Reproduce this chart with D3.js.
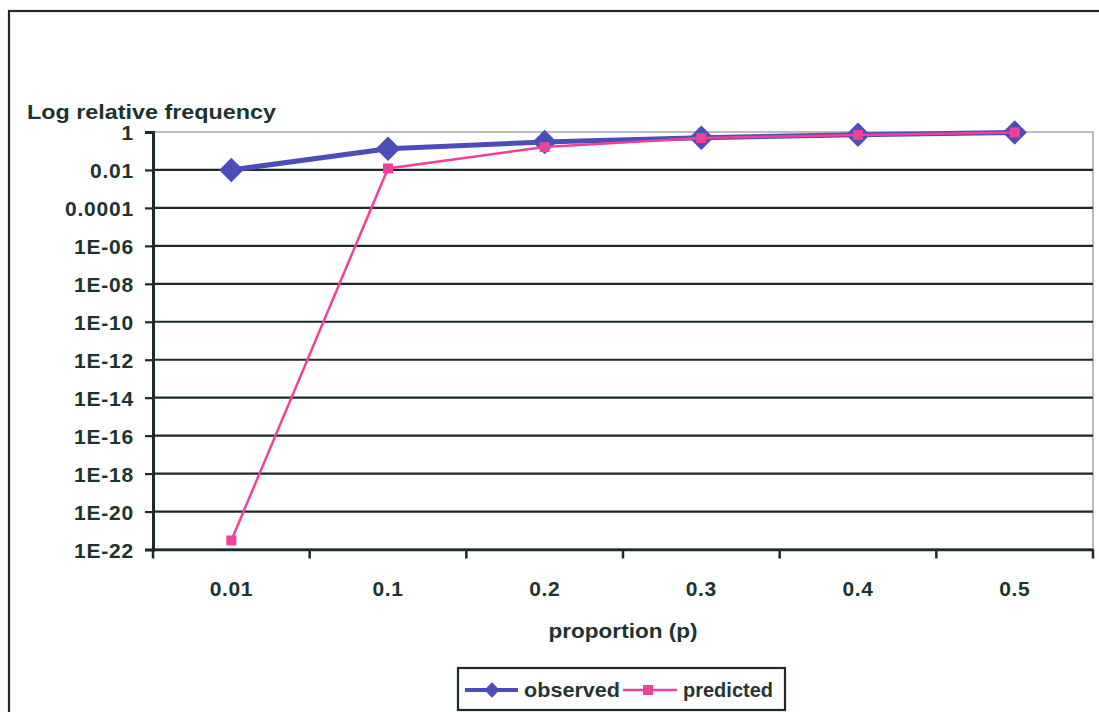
<!DOCTYPE html>
<html><head><meta charset="utf-8">
<script src="https://cdn.jsdelivr.net/npm/d3@7"></script>
<style>html,body{margin:0;padding:0;background:#fff;}svg{display:block;}</style>
</head><body>
<svg id="chart" width="1099" height="712"></svg>
<script>
const categories = ["0.01", "0.1", "0.2", "0.3", "0.4", "0.5"];
const observed = [0.01, 0.13, 0.3, 0.5, 0.72, 0.95];
const predicted = [3e-22, 0.012, 0.16, 0.48, 0.7, 0.95];
const yTickExponents = [0, -2, -4, -6, -8, -10, -12, -14, -16, -18, -20, -22];
const yTickLabels = ["1", "0.01", "0.0001", "1E-06", "1E-08", "1E-10", "1E-12", "1E-14", "1E-16", "1E-18", "1E-20", "1E-22"];
const seriesNames = ["observed", "predicted"];

const svg = d3.select("#chart");
const W = 1099, H = 712;
const plot = {left: 153, right: 1093, top: 132, bottom: 549.5};
const font = "'Liberation Sans', Arial, sans-serif";
const dark = "#1c2a2a";
const textCol = "#1d3330";
const blue = "#4b4db8";
const pink = "#f0409a";

// outer frame
svg.append("rect").attr("x", 9).attr("y", 11).attr("width", W + 20).attr("height", H + 20)
  .attr("fill", "none").attr("stroke", dark).attr("stroke-width", 2.2);

const x = d3.scaleBand().domain(categories).range([plot.left, plot.right]);
const y = d3.scaleLog().domain([1e-22, 1]).range([plot.bottom, plot.top]);

// plot area border (light)
svg.append("rect").attr("x", plot.left).attr("y", plot.top)
  .attr("width", plot.right - plot.left).attr("height", plot.bottom - plot.top)
  .attr("fill", "none").attr("stroke", "#a6a6b4").attr("stroke-width", 1.5);

// gridlines
const tickVals = yTickExponents.map(e => Math.pow(10, e));
svg.append("g").selectAll("line").data(tickVals.slice(1)).join("line")
  .attr("x1", plot.left).attr("x2", plot.right)
  .attr("y1", d => y(d)).attr("y2", d => y(d))
  .attr("stroke", dark).attr("stroke-width", 2.2);

// y axis
const yAxis = d3.axisLeft(y).tickValues(tickVals)
  .tickFormat((d, i) => yTickLabels[i]).tickSize(8).tickPadding(11);
const gy = svg.append("g").attr("transform", `translate(${plot.left},0)`).call(yAxis);
gy.select(".domain").attr("stroke", dark).attr("stroke-width", 3);
gy.selectAll(".tick line").attr("stroke", dark).attr("stroke-width", 2.2);
gy.selectAll(".tick text").attr("font-family", font).attr("font-size", 21).attr("font-weight", "bold")
  .attr("fill", textCol).attr("letter-spacing", "0.8px").attr("dy", "0.37em");

// x axis
const xAxis = d3.axisBottom(x).tickSizeOuter(0).tickSize(0).tickPadding(0);
const gx = svg.append("g").attr("transform", `translate(0,${plot.bottom})`).call(xAxis);
gx.select(".domain").attr("stroke", dark).attr("stroke-width", 2.5);
gx.selectAll(".tick line").remove();
gx.selectAll(".tick text").attr("font-family", font).attr("font-size", 21).attr("font-weight", "bold")
  .attr("fill", textCol).attr("letter-spacing", "0.6px").attr("y", 46).attr("dy", 0);
// category boundary ticks
const bounds = categories.map(c => x(c)).concat([x(categories[categories.length - 1]) + x.bandwidth()]);
svg.append("g").selectAll("line").data(bounds).join("line")
  .attr("x1", d => d).attr("x2", d => d)
  .attr("y1", plot.bottom).attr("y2", plot.bottom + 9)
  .attr("stroke", dark).attr("stroke-width", 2.5);

// titles
svg.append("text").attr("x", 27).attr("y", 119).text("Log relative frequency")
  .attr("font-family", font).attr("font-size", 21).attr("font-weight", "bold").attr("fill", textCol)
  .attr("textLength", 249).attr("lengthAdjust", "spacingAndGlyphs");
svg.append("text").attr("x", 623).attr("y", 638).attr("text-anchor", "middle").text("proportion (p)")
  .attr("font-family", font).attr("font-size", 20).attr("font-weight", "bold").attr("fill", textCol)
  .attr("textLength", 149).attr("lengthAdjust", "spacingAndGlyphs");

const cx = (d, i) => x(categories[i]) + x.bandwidth() / 2;
const line = d3.line().x((d, i) => cx(d, i)).y(d => y(d));

// observed
svg.append("path").datum(observed).attr("d", line).attr("fill", "none")
  .attr("stroke", blue).attr("stroke-width", 5).attr("stroke-linejoin", "round");
const diamond = d3.symbol().type(d3.symbolDiamond2).size(380);
svg.append("g").selectAll("path").data(observed).join("path")
  .attr("d", diamond).attr("transform", (d, i) => `translate(${cx(d, i)},${y(d)})`)
  .attr("fill", blue);

// predicted
svg.append("path").datum(predicted).attr("d", line).attr("fill", "none")
  .attr("stroke", pink).attr("stroke-width", 2.5);
svg.append("g").selectAll("rect").data(predicted).join("rect")
  .attr("x", (d, i) => cx(d, i) - 5).attr("y", d => y(d) - 5)
  .attr("width", 10).attr("height", 10).attr("fill", pink);

// legend
const lg = svg.append("g");
lg.append("rect").attr("x", 458).attr("y", 668).attr("width", 327).attr("height", 42)
  .attr("fill", "#fff").attr("stroke", dark).attr("stroke-width", 2.2);
const ly = 690;
lg.append("line").attr("x1", 465).attr("x2", 518).attr("y1", ly).attr("y2", ly).attr("stroke", blue).attr("stroke-width", 4);
lg.append("path").attr("d", d3.symbol().type(d3.symbolDiamond2).size(150)).attr("transform", `translate(492,${ly})`).attr("fill", blue);
lg.append("text").attr("x", 524).attr("y", ly + 7).text(seriesNames[0])
  .attr("font-family", font).attr("font-size", 21).attr("font-weight", "bold").attr("fill", "#253535")
  .attr("textLength", 96).attr("lengthAdjust", "spacingAndGlyphs");
lg.append("line").attr("x1", 623).attr("x2", 677).attr("y1", ly).attr("y2", ly).attr("stroke", pink).attr("stroke-width", 2.5);
lg.append("rect").attr("x", 643).attr("y", ly - 5).attr("width", 10).attr("height", 10).attr("fill", pink);
lg.append("text").attr("x", 683).attr("y", ly + 7).text(seriesNames[1])
  .attr("font-family", font).attr("font-size", 21).attr("font-weight", "bold").attr("fill", "#253535")
  .attr("textLength", 90).attr("lengthAdjust", "spacingAndGlyphs");
</script>
</body></html>
